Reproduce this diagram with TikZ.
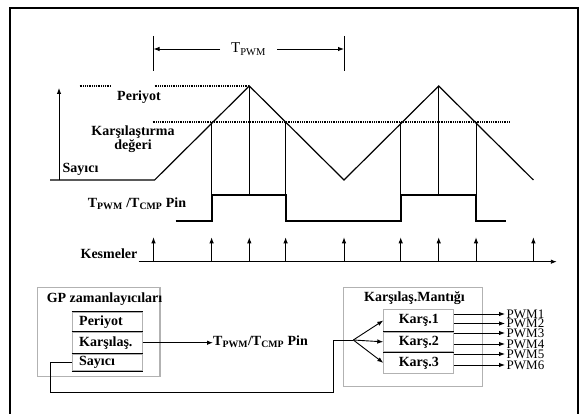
\documentclass[tikz,border=0pt]{standalone}
\usepackage{fontspec}
\setmainfont{Liberation Serif}
\usetikzlibrary{positioning,arrows.meta,calc}

\begin{document}
\begin{tikzpicture}[
  x=1pt, y=-1pt,
  lbl/.style={font=\fontsize{14}{14}\selectfont\bfseries, inner sep=0pt},
  plain/.style={font=\fontsize{13}{13}\selectfont, inner sep=0pt},
  flow/.style={-{Latex[length=6pt,width=4.5pt]}, line width=0.9pt},
  wave/.style={line width=1.2pt},
  pwmsig/.style={line width=2pt},
  dotline/.style={line width=1.4pt, dash pattern=on 1pt off 0.8pt},
  tick/.style={line width=0.9pt},
  graybox/.style={draw=gray!60, line width=1.2pt, inner sep=0pt},
  row/.style={lbl, draw=gray!60, line width=1pt, inner xsep=7pt, text width=56pt, align=left},
  krow/.style={lbl, draw=gray!60, line width=1pt, minimum width=70pt, align=center},
  sep/.style={line width=1pt}
]
\clip (0,0) rectangle (580,414);
% frame
\draw[line width=2pt] (10,420) -- (10,8) -- (577.5,8) -- (577.5,420);

% period bracket
\node[font=\fontsize{15}{15}\selectfont, inner sep=0pt, anchor=base west] (tpwm) at (231,53) {T\textsubscript{PWM}};
\coordinate (bl) at (153.5,49);
\coordinate (br) at (344,49);
\draw[tick] (153.5,36) -- (153.5,71);
\draw[tick] (344,36) -- (344,71);
\draw[flow] (220,49) -- (bl);
\draw[flow] (277,49) -- (br);

% counter waveform
\draw[flow] (59,180) -- (59,88);
\draw[dotline] (79.5,86) -- (111,86);
\draw[dotline] (154.6,86) -- (249.3,86);
\draw[dotline] (152.5,122) -- (510.6,122);
\draw[wave] (50,180) -- (154.6,180) -- (249.3,86) -- (344,180) -- (438.7,86) -- (533.4,180);
\foreach \x in {211.6,285.6,400.7,476}
  \draw[tick] (\x,122) -- (\x,195);
\foreach \x in {249.3,438.7}
  \draw[tick] (\x,86) -- (\x,195);

\node[lbl, anchor=base] (periyot) at (139,101) {Periyot};
\node[lbl, align=center] (cmpval) at (133,139) {Karşılaştırma\\değeri};
\node[lbl, anchor=base] (sayici) at (80.5,172.5) {Sayıcı};

% output pin
\node[lbl, anchor=base west] (pinlbl) at (87.7,207.5) {T\textsubscript{PWM} /T\textsubscript{CMP} Pin};
\draw[pwmsig] (175.7,221) -- (211.6,221) -- (211.6,195) -- (285.6,195) -- (285.6,221)
  -- (400.7,221) -- (400.7,195) -- (476,195) -- (476,221) -- (505.7,221);

% interrupts
\node[lbl, anchor=base] (kesme) at (109,258.5) {Kesmeler};
\draw[flow] (138.7,261.7) -- (556.8,261.7);
\foreach \x in {153.5,211.6,249.3,285.6,344,400.7,438.7,476,533.4}
  \draw[flow] (\x,261.7) -- (\x,237.3);

% GP timers block
\node[graybox, minimum width=122.3pt, minimum height=89.4pt] (gpbox) at (98.85,332) {};
\node[lbl, anchor=base] (gptitle) at (104.5,302.5) {GP zamanlayıcıları};
\node[row, minimum height=19pt, anchor=north west] (gpper) at (71.7,311.7) {Periyot};
\node[row, minimum height=21pt, below=0pt of gpper] (gpcmp) {Karşılaş.};
\node[row, minimum height=16.6pt, below=0pt of gpcmp] (gpcnt) {Sayıcı};
\draw[sep] (gpper.north west) -- (gpper.north east);
\draw[sep] (gpper.south west) -- (gpper.south east);
\draw[sep] (gpcmp.south west) -- (gpcmp.south east);
\draw[sep] (gpcnt.south west) -- (gpcnt.south east);

\node[lbl, anchor=base west] (pinout) at (213,345.5) {T\textsubscript{PWM}/T\textsubscript{CMP} Pin};
\draw[flow] (gpcmp.east) -- (gpcmp.east -| pinout.west);

% compare logic block
\node[graybox, minimum width=139.4pt, minimum height=99.4pt] (cmpbox) at (413,337) {};
\node[lbl, anchor=base] (cmptitle) at (414.5,301.5) {Karşılaş.Mantığı};
\node[krow, minimum height=21.4pt, anchor=north west] (k1) at (383.3,309.3) {Karş.1};
\node[krow, minimum height=19.3pt, below=0pt of k1] (k2) {Karş.2};
\node[krow, minimum height=20.7pt, below=0pt of k2] (k3) {Karş.3};
\draw[sep] (k1.south west) -- (k1.south east);
\draw[sep] (k2.south west) -- (k2.south east);

% counter feedback to compare units
\coordinate (c1) at (50,392.3);
\coordinate (c2) at (333.3,392.3);
\coordinate (fork) at (353.3,340);
\draw[tick] (gpcnt.west) -| (c1) -- (c2) |- (fork);
\draw[flow] (fork) -- (k1.west);
\draw[flow] (fork) -- (k2.west);
\draw[flow] (fork) -- (k3.west);

% pwm outputs
\node[plain, anchor=west, inner xsep=1.5pt] (p1) at (505,314) {PWM1};
\node[plain, anchor=west, inner xsep=1.5pt] (p2) at (505,323.5) {PWM2};
\node[plain, anchor=west, inner xsep=1.5pt] (p3) at (505,333) {PWM3};
\node[plain, anchor=west, inner xsep=1.5pt] (p4) at (505,344) {PWM4};
\node[plain, anchor=west, inner xsep=1.5pt] (p5) at (505,354) {PWM5};
\node[plain, anchor=west, inner xsep=1.5pt] (p6) at (505,365) {PWM6};
\draw[flow] (k1.east |- p1.west) -- (p1.west);
\draw[flow] (k1.east |- p2.west) -- (p2.west);
\draw[flow] (k2.east |- p3.west) -- (p3.west);
\draw[flow] (k2.east |- p4.west) -- (p4.west);
\draw[flow] (k3.east |- p5.west) -- (p5.west);
\draw[flow] (k3.east |- p6.west) -- (p6.west);
\end{tikzpicture}
\end{document}
